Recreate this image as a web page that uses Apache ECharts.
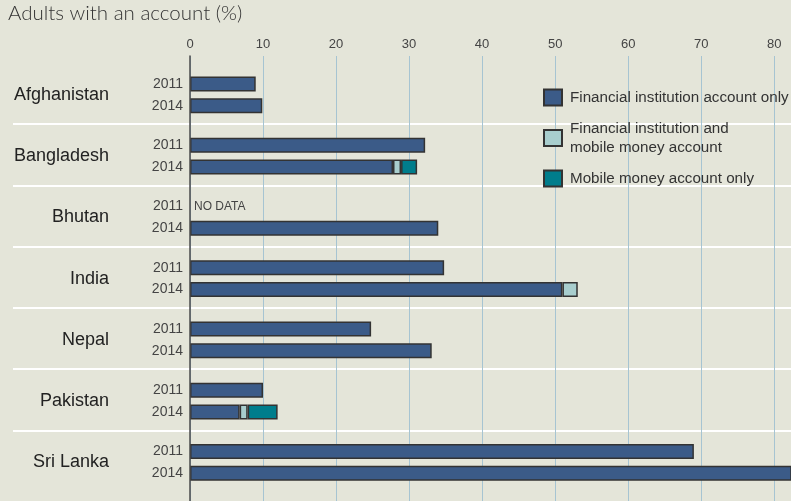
<!DOCTYPE html>
<html>
<head>
<meta charset="utf-8">
<title>Adults with an account (%)</title>
<script src="https://cdn.jsdelivr.net/npm/echarts@6/dist/echarts.min.js"></script>
<style>
  body { margin: 0; background: #e4e5d9; }
  #main { width: 791px; height: 501px; }
</style>
</head>
<body>
<div id="main"></div>
<script>
// data
var countries = ['Afghanistan', 'Bangladesh', 'Bhutan', 'India', 'Nepal', 'Pakistan', 'Sri Lanka'];
var years = ['2011', '2014'];
var legendNames = ['Financial institution account only',
                   'Financial institution and\nmobile money account',
                   'Mobile money account only'];
// 2011 only had financial institution accounts, Bhutan 2011 = no data
var fiOnly2011 = [9.0, 32.2, null, 34.8, 24.8, 10.0, 69.0];
var fiOnly2014 = [9.9, 27.8, 34.0, 51.0, 33.1, 6.8, 82.7];
var fiAndMobile2014 = [null, 1.1, null, 2.1, null, 1.1, null];
var mobileOnly2014 = [null, 2.2, null, null, null, 4.1, null];

var xMax = 82.3;
var gridTop = 62.75, gridBottom = 9.5;
var band = (501 - gridTop - gridBottom) / countries.length;
var barShift = 1.5; // bar pairs sit a little below the band centre

var font = 'Liberation Sans, Arial, sans-serif';
var barStyle = function (color) {
    return { color: color, borderColor: '#333', borderWidth: 1.5 };
};
var dash = function (arr) {
    return arr.map(function (v) { return v == null ? '-' : v; });
};

var myChart = echarts.init(document.getElementById('main'));

var option = {
    animation: false,
    backgroundColor: '#e4e5d9',
    textStyle: { fontFamily: font },
    title: {
        text: 'Adults with an account (%)',
        left: 8, top: 3, padding: 0,
        textStyle: { fontFamily: 'Lato, Liberation Sans, sans-serif', fontWeight: 300, fontSize: 20.5, color: '#333' }
    },
    legend: {
        data: legendNames,
        orient: 'vertical',
        left: 543, top: 88,
        padding: 0,
        icon: 'rect',
        itemWidth: 18, itemHeight: 16, itemGap: 12,
        selectedMode: false,
        textStyle: { fontFamily: font, fontSize: 15.2, color: '#333', lineHeight: 19, padding: [0, 0, 0, 3] }
    },
    grid: [
        // axis labels + vertical grid lines
        { left: 190, right: 0, top: 56, bottom: 0 },
        // white separators between countries
        { left: 13, right: 0, top: gridTop + band, bottom: gridBottom + band },
        // bars
        { left: 190, right: 0, top: gridTop + barShift, bottom: gridBottom - barShift }
    ],
    xAxis: [
        {
            gridIndex: 0, type: 'value', position: 'top',
            min: 0, max: xMax, interval: 10, z: 2,
            axisLine: { show: false }, axisTick: { show: false },
            axisLabel: { margin: 5, fontSize: 13, color: '#444', showMaxLabel: false },
            splitLine: { lineStyle: { color: '#a6c4d2', width: 1 } }
        },
        { gridIndex: 1, type: 'value', show: false },
        { gridIndex: 2, type: 'value', min: 0, max: xMax, show: false }
    ],
    yAxis: [
        {
            gridIndex: 0, type: 'value', min: 0, max: 1, z: 3,
            axisLine: { show: true, lineStyle: { color: '#4a4a4a', width: 1.5 } },
            axisTick: { show: false }, axisLabel: { show: false }, splitLine: { show: false }
        },
        {
            gridIndex: 1, type: 'value', inverse: true,
            min: 1, max: countries.length - 1, interval: 1, z: 0,
            axisLine: { show: false }, axisTick: { show: false }, axisLabel: { show: false },
            splitLine: { lineStyle: { color: '#ffffff', width: 2 } }
        },
        {
            gridIndex: 2, type: 'category', inverse: true, data: countries,
            axisLine: { show: false }, axisTick: { show: false },
            axisLabel: { margin: 81, fontSize: 18, color: '#222' }
        }
    ],
    series: [
        {
            name: legendNames[0], type: 'bar', xAxisIndex: 2, yAxisIndex: 2,
            stack: 'y2011', barWidth: 15, barGap: '45%',
            itemStyle: barStyle('#3b5b88'),
            label: { show: true, position: 'left', distance: 7, formatter: years[0], fontSize: 14, color: '#444' },
            data: fiOnly2011.map(function (v) {
                return v == null ? { value: 0, itemStyle: { borderWidth: 0 } } : v;
            })
        },
        {
            name: 'no data', type: 'bar', xAxisIndex: 2, yAxisIndex: 2,
            stack: 'y2011', barWidth: 15, barGap: '45%',
            itemStyle: { color: 'transparent', borderWidth: 0 },
            label: { show: true, position: 'right', distance: 4, formatter: 'NO DATA', fontSize: 12, color: '#444' },
            data: fiOnly2011.map(function (v) { return v == null ? 0 : '-'; })
        },
        {
            name: legendNames[0], type: 'bar', xAxisIndex: 2, yAxisIndex: 2,
            stack: 'y2014', barWidth: 15, barGap: '45%',
            itemStyle: barStyle('#3b5b88'),
            label: { show: true, position: 'left', distance: 7, formatter: years[1], fontSize: 14, color: '#444' },
            data: dash(fiOnly2014)
        },
        {
            name: legendNames[1], type: 'bar', xAxisIndex: 2, yAxisIndex: 2,
            stack: 'y2014', barWidth: 15, barGap: '45%',
            itemStyle: barStyle('#a8cece'),
            data: dash(fiAndMobile2014)
        },
        {
            name: legendNames[2], type: 'bar', xAxisIndex: 2, yAxisIndex: 2,
            stack: 'y2014', barWidth: 15, barGap: '45%',
            itemStyle: barStyle('#007d8c'),
            data: dash(mobileOnly2014)
        }
    ]
};

myChart.setOption(option);
</script>
</body>
</html>
